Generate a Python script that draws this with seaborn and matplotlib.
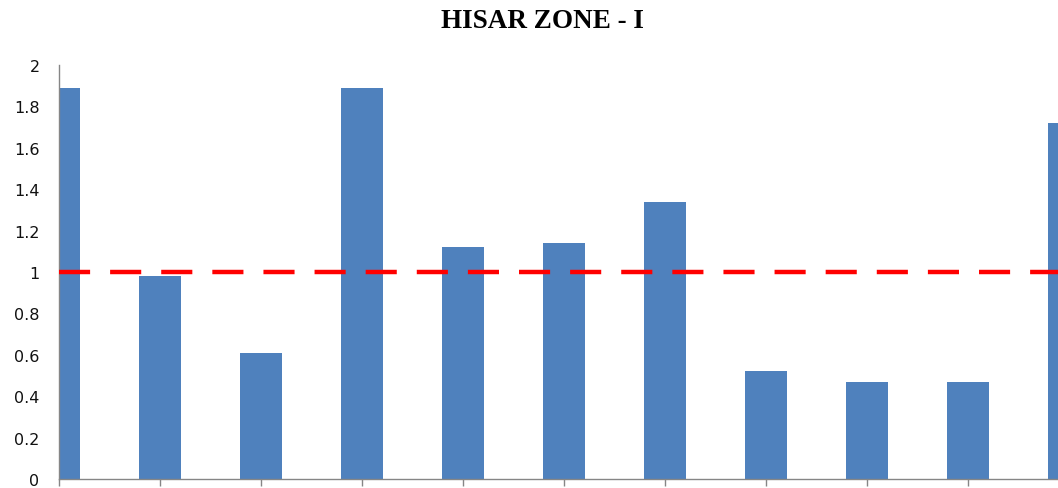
import matplotlib
matplotlib.use("Agg")
import matplotlib.pyplot as plt
import seaborn as sns
import pandas as pd

# Data
categories = ["C1", "C2", "C3", "C4", "C5", "C6", "C7", "C8", "C9", "C10", "C11"]
values = [1.89, 0.98, 0.61, 1.89, 1.12, 1.14, 1.34, 0.52, 0.47, 0.47, 1.72]
threshold = 1.0
ytick_values = [0, 0.2, 0.4, 0.6, 0.8, 1.0, 1.2, 1.4, 1.6, 1.8, 2.0]
ytick_labels = ["0", "0.2", "0.4", "0.6", "0.8", "1", "1.2", "1.4", "1.6", "1.8", "2"]
title = "HISAR ZONE - I"

df = pd.DataFrame({"cat": categories, "val": values})

sns.set_theme(style="white")
plt.rcParams["font.family"] = ["DejaVu Sans"]

fig = plt.figure(figsize=(10.58, 4.89), dpi=100)
ax = fig.add_axes([59 / 1058, 1 - 480 / 489, 1 - 59 / 1058, (480 - 66) / 489])

sns.barplot(data=df, x="cat", y="val", color="#4F81BD", saturation=1,
            width=0.41, ax=ax, edgecolor="#4F81BD", linewidth=0)

ax.axhline(threshold, color="#FF0000", linewidth=3.2, dashes=(7, 4.5), zorder=5)

ax.set_xlim(0, (1058 - 59) / 101)
ax.set_ylim(0, 2)
ax.set_yticks(ytick_values)
ax.set_yticklabels(ytick_labels, fontsize=11.5, color="#111111")
ax.set_xticklabels([])
ax.set_xlabel("")
ax.set_ylabel("")

for s in ["top", "right"]:
    ax.spines[s].set_visible(False)
for s in ["left", "bottom"]:
    ax.spines[s].set_color("#868686")
    ax.spines[s].set_linewidth(1.0)

ax.tick_params(axis="y", left=False, length=0, pad=14)
ax.tick_params(axis="x", bottom=True, length=5, width=1, color="#868686", direction="out")

fig.text(542 / 1058, 1 - 22 / 489, title, ha="center", va="center", color="#000000",
         fontsize=19.5, fontweight="bold", family=["Liberation Serif", "DejaVu Serif"])

fig.savefig("out.png", dpi=100)
